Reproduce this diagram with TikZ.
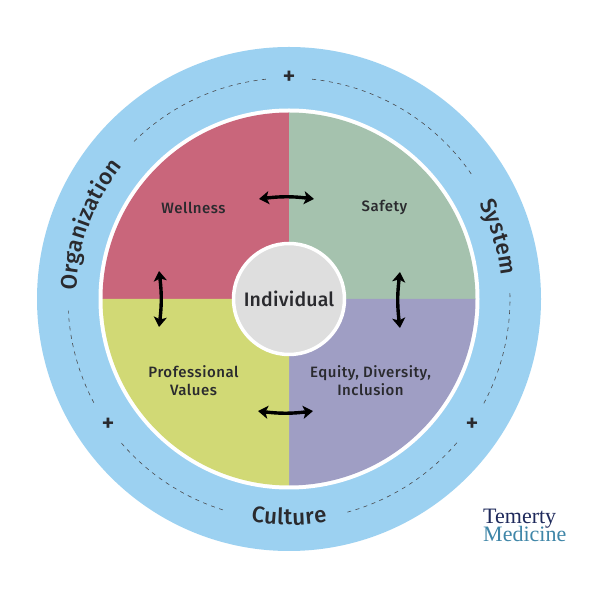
\documentclass[tikz,border=0pt]{standalone}
\usepackage{fontspec}
\setmainfont{Fira Sans}
\newfontfamily\logofont{Liberation Serif}
\newfontfamily\medfont[UprightFont=* Medium,LetterSpace=3.5]{Fira Sans}
\newfontfamily\indfont[UprightFont=* Medium,LetterSpace=1]{Fira Sans}
\newfontfamily\arcfont[UprightFont=* Medium]{Fira Sans}
\usetikzlibrary{arrows.meta,decorations.text,bending,calc}
\definecolor{ringblue}{HTML}{9CD1F1}
\definecolor{qred}{HTML}{C9667B}
\definecolor{qgreen}{HTML}{A5C2AE}
\definecolor{qyellow}{HTML}{D1D975}
\definecolor{qpurple}{HTML}{9F9EC4}
\definecolor{discgrey}{HTML}{DEDEDE}
\definecolor{inktext}{HTML}{2A2A2E}
\definecolor{logonavy}{HTML}{1F2A5C}
\definecolor{logoteal}{HTML}{3F86A8}
\newcommand{\gp}{\kern0.3pt}
\tikzset{x=1pt,y=1pt,
  dasharc/.style={draw=inktext!85,line width=0.6pt,dash pattern=on 4pt off 4.5pt},
  swaparrow/.style={line width=3.4pt,black,{Stealth[length=10pt,width=13pt,inset=2.5pt,bend]}-{Stealth[length=10pt,width=13pt,inset=2.5pt,bend]}},
  lbl/.style={text=inktext,font=\medfont\fontsize{15}{18.5}\selectfont,align=center,inner sep=0pt},
  plusmark/.style={text=inktext,font=\arcfont\fontsize{25}{25}\selectfont,inner sep=0pt},
  arctext/.style={decorate,decoration={text along path,text align=center,text color=inktext,
    text={|\arcfont\fontsize{22.5}{24}\selectfont|#1}}},
  logotext/.style={font=\logofont\fontsize{22}{22}\selectfont,anchor=base west,inner sep=0pt}
}
\begin{document}
\begin{tikzpicture}
\useasboundingbox (0,0) rectangle (600,600);
\fill[white] (0,0) rectangle (600,600);
\coordinate (c) at (289,301);
\fill[ringblue] (c) circle (252);
\fill[white] (c) circle (190.5);
\fill[qred] (c) -- ++(180:186.5) arc (180:90:186.5) -- cycle;
\fill[qgreen] (c) -- ++(90:186.5) arc (90:0:186.5) -- cycle;
\fill[qpurple] (c) -- ++(0:186.5) arc (0:-90:186.5) -- cycle;
\fill[qyellow] (c) -- ++(-90:186.5) arc (-90:-180:186.5) -- cycle;
\node[circle,minimum size=111pt,fill=discgrey,draw=white,line width=3.5pt,inner sep=0pt] (ind) at (c) {};
\node[lbl,font=\indfont\fontsize{19.5}{24}\selectfont] (indl) at (289,301) {Individual};
\node[lbl] (well) at (193.5,392.5) {Wellness};
\node[lbl] (safe) at (384.5,392.5) {Safety};
\node[lbl] (prof) at (193.5,219.5) {Professional\\Values};
\node[lbl] (edi) at (370.5,219.5) {Equity, Diversity,\\Inclusion};
\foreach \a/\b in {96/134.8,84/34,1.5/-28.4,-40.6/-74.8,252.6/220.4,208/183}
  \draw[dasharc] ($(c)+(\a:221)$) arc (\a:\b:221);
\node[plusmark] (p1) at (289,522) {+};
\node[plusmark] (p2) at (108,175) {+};
\node[plusmark] (p3) at (472,175) {+};
\path[arctext={{O\gp}{r\gp}{g\gp}{a\gp}{n\gp}{i\gp}{z\gp}{a\gp}{t\gp}{i\gp}{o\gp}{n}}] ($(c)+(194.5:213)$) arc (194.5:124.5:213);
\path[arctext={{S\gp}{y\gp}{s\gp}{t\gp}{e\gp}{m}}] ($(c)+(50:213)$) arc (50:-17:213);
\path[arctext={{C\gp}{u\gp}{l\gp}{t\gp}{u\gp}{r\gp}{e}}] ($(c)+(240:226)$) arc (240:300:226);
\coordinate (t1) at (259,401); \coordinate (t2) at (314,401);
\coordinate (l1) at (159,329); \coordinate (l2) at (159,273);
\coordinate (r1) at (400,328); \coordinate (r2) at (400,272);
\coordinate (b1) at (258,189); \coordinate (b2) at (313,189);
\draw[swaparrow] (t1) to[bend left=8] (t2);
\draw[swaparrow] (l1) to[bend left=8] (l2);
\draw[swaparrow] (r1) to[bend right=8] (r2);
\draw[swaparrow] (b1) to[bend right=8] (b2);
\node[logotext,text=logonavy] (lg1) at (483,76) {Temerty};
\node[logotext,text=logoteal] (lg2) at (483,58.5) {Medicine};
\end{tikzpicture}
\end{document}
